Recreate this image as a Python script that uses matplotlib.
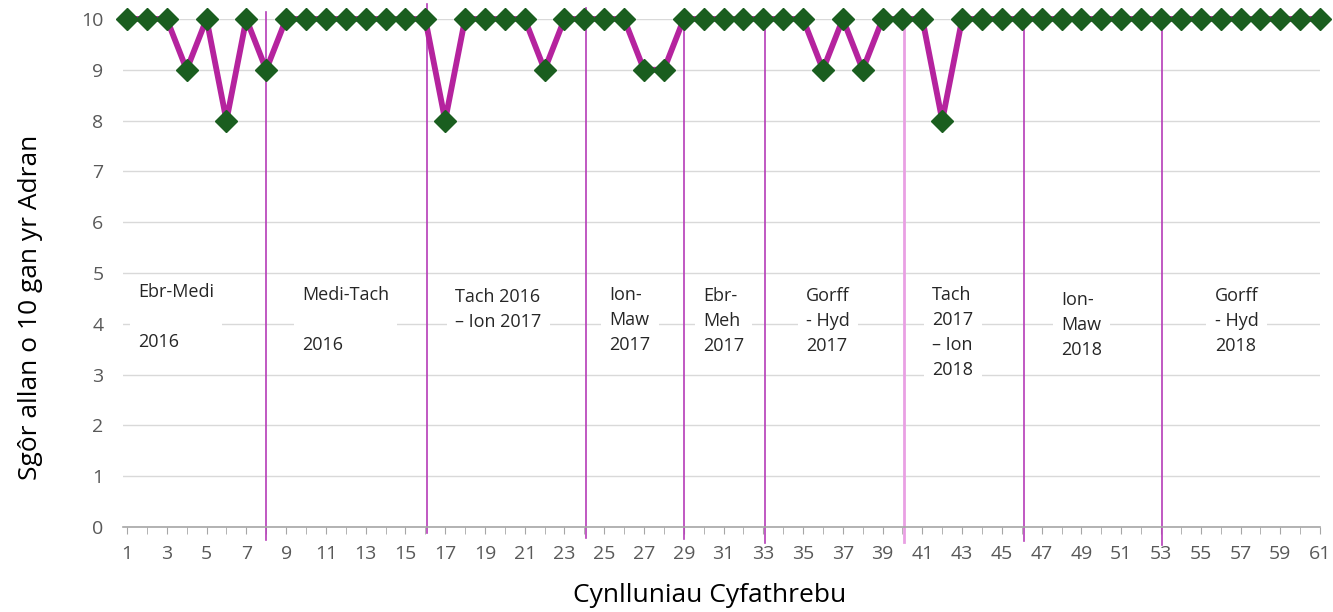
import matplotlib
matplotlib.use('Agg')
import matplotlib.pyplot as plt

plt.rcParams['font.family'] = ['Open Sans', 'DejaVu Sans']

# plan number vs score out of 10
plans = list(range(1, 62))
scores = [10, 10, 10, 9, 10, 8, 10, 9, 10, 10,
          10, 10, 10, 10, 10, 10, 8, 10, 10, 10,
          10, 9, 10, 10, 10, 10, 9, 9, 10, 10,
          10, 10, 10, 10, 10, 9, 10, 9, 10, 10,
          10, 8, 10, 10, 10, 10, 10, 10, 10, 10,
          10, 10, 10, 10, 10, 10, 10, 10, 10, 10, 10]

# period dividers and their labels
dividers = [8, 16.1, 24.1, 29, 33.1, 40.1, 46.1, 53.05]
divider_tops = [10.14, 10.3, 10.22, 10.18, 10.14, 9.98, 10.14, 10.14]
divider_bottoms = [-0.26, -0.12, -0.22, -0.24, -0.31, -0.30, -0.28, -0.35]
period_labels = ['Ebr-Medi\n\n2016', 'Medi-Tach\n\n2016', 'Tach 2016\n– Ion 2017',
                 'Ion-\nMaw\n2017', 'Ebr-\nMeh\n2017', 'Gorff\n- Hyd\n2017',
                 'Tach\n2017\n– Ion\n2018', 'Ion-\nMaw\n2018', 'Gorff\n- Hyd\n2018']
label_x = [1.55, 9.8, 17.5, 25.25, 29.97, 35.16, 41.5, 47.98, 55.7]
label_y = [4.80, 4.74, 4.70, 4.74, 4.72, 4.72, 4.74, 4.64, 4.72]

fig = plt.figure(figsize=(13.33, 6.12), dpi=100)
ax = fig.add_axes([0.0923, 0.139, 0.898, 0.830])

ax.set_xlim(0.8, 61.0)
ax.set_ylim(0, 10)
ax.set_yticks(range(0, 11))
ax.yaxis.grid(True, color='#d9d9d9', linewidth=1.0)
ax.set_axisbelow(True)

for s in ['top', 'right', 'left']:
    ax.spines[s].set_visible(False)
ax.spines['bottom'].set_color('#a6a6a6')
ax.spines['bottom'].set_linewidth(1.2)

ax.set_xticks(range(1, 62, 2))
ax.set_xticks(range(1, 62), minor=True)
ax.tick_params(axis='x', which='both', direction='out', length=5, color='#a6a6a6',
               labelsize=14, labelcolor='#595959', pad=8)
ax.tick_params(axis='y', length=0, labelsize=14, labelcolor='#595959', pad=14)

for i in range(len(dividers)):
    col = '#e9a0e3' if i == 5 else '#b53cb8'
    lw = 2.0 if i == 5 else 1.2
    ax.plot([dividers[i], dividers[i]], [divider_bottoms[i], divider_tops[i]],
            color=col, linewidth=lw, clip_on=False, zorder=2)

for i in range(len(period_labels)):
    ax.text(label_x[i], label_y[i], period_labels[i], fontsize=13, color='#262626',
            ha='left', va='top', linespacing=1.5, zorder=3,
            bbox=dict(facecolor='white', edgecolor='none', pad=6))

ax.plot(plans, scores, color='#b5239e', linewidth=4.2, marker='D', markersize=11,
        markerfacecolor='#1a5e1f', markeredgecolor='#1a5e1f', clip_on=False, zorder=4)

ax.set_ylabel('Sgôr allan o 10 gan yr Adran', fontsize=19)
ax.yaxis.set_label_coords(-0.067, 0.433)
ax.set_xlabel('Cynlluniau Cyfathrebu', fontsize=19)
ax.xaxis.set_label_coords(0.49, -0.11)

fig.savefig('out.png', dpi=100)
